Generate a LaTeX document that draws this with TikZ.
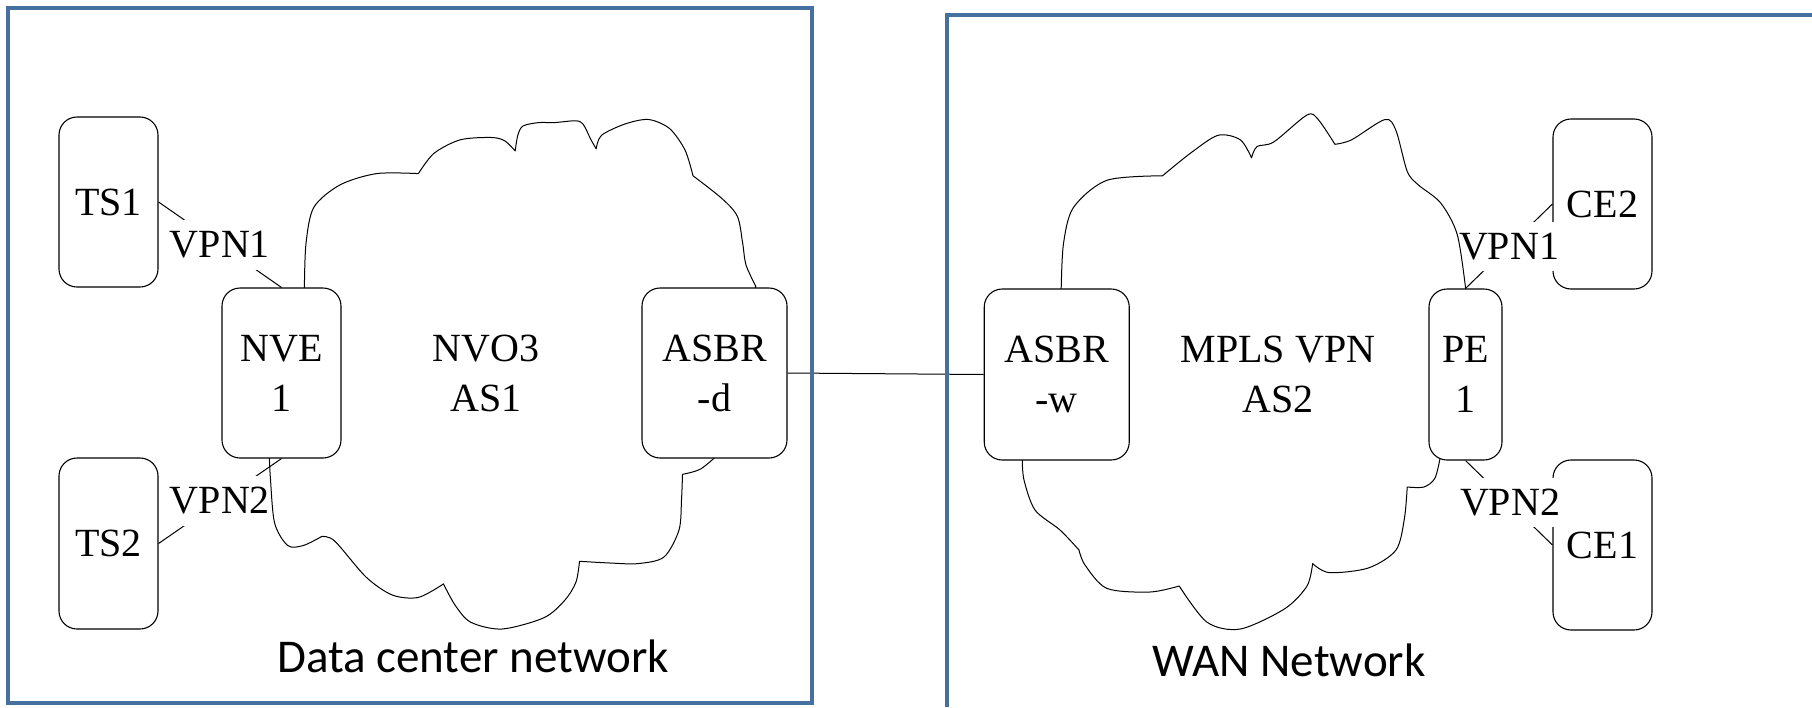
\documentclass[tikz,border=0pt]{standalone}
\usepackage{fontspec}
\setmainfont{Liberation Serif}
\newfontfamily\calib{Carlito}
\definecolor{frameblue}{RGB}{70,112,160}
\pgfdeclarelayer{bottom}
\pgfdeclarelayer{labels}
\pgfdeclarelayer{cloud}
\pgfsetlayers{bottom,labels,cloud,main}
\begin{document}
\begin{tikzpicture}[x=1pt,y=-1pt,
  box/.style={draw, line width=1.1pt, rounded corners=18pt, fill=white, inner sep=0pt,
    align=center, font=\fontsize{40}{50}\selectfont},
  vlab/.style={fill=white, inner xsep=1pt, inner ysep=11pt, font=\fontsize{40}{50}\selectfont},
  txt/.style={align=center, font=\fontsize{40}{50}\selectfont},
  net/.style={font=\calib\fontsize{47}{56}\selectfont, anchor=base},
  conn/.style={line width=1pt},
  cloudline/.style={line width=1pt, line join=round},
  frame/.style={draw=frameblue, line width=4pt}]
\useasboundingbox (0,0) rectangle (1812,707);

% frames
\draw[frame] (8,8) rectangle (812,703);
\draw[frame] (1812,15) -- (946.5,15) -- (946.5,707);

% boxes over the cloud
\node[box, minimum width=119pt, minimum height=170pt] (nve) at (281.5,373) {NVE\\1};
\node[box, minimum width=145pt, minimum height=170pt] (asbrd) at (714.5,373) {ASBR\\-d};
\node[box, minimum width=145pt, minimum height=171pt] (asbrw) at (1056.75,374.5) {ASBR\\-w};
\node[box, minimum width=73pt, minimum height=171pt] (pe) at (1465.5,374.5) {PE\\1};

% inner texts
\node[txt] (nvo) at (486,373) {NVO3\\AS1};
\node[txt] (mpls) at (1278,374) {MPLS VPN\\AS2};
\node[net] (dcn) at (473,672) {Data center network};
\node[net] (wan) at (1289,676) {WAN Network};

\begin{pgfonlayer}{bottom}
\node[box, minimum width=99pt, minimum height=170pt] (ts1) at (108.5,202) {TS1};
\node[box, minimum width=99pt, minimum height=171pt] (ts2) at (108.5,543.5) {TS2};
\node[box, minimum width=99pt, minimum height=170pt] (ce2) at (1602.5,204) {CE2};
\node[box, minimum width=99pt, minimum height=170pt] (ce1) at (1602.5,545) {CE1};
\draw[conn] (ts1.east) -- (nve.north);
\draw[conn] (ts2.east) -- (nve.south);
\draw[conn] (ce2.west) -- (pe.north);
\draw[conn] (ce1.west) -- (pe.south);
\draw[conn] (asbrd.east) -- (asbrw.west);
\end{pgfonlayer}

\begin{pgfonlayer}{labels}
\node[vlab] (l1) at (220,245) {VPN1};
\node[vlab] (l2) at (220,501) {VPN2};
\node[vlab] (r1) at (1509,246.5) {VPN1};
\node[vlab] (r2) at (1510,502.5) {VPN2};
\end{pgfonlayer}

\begin{pgfonlayer}{cloud}
% left cloud
\draw[cloudline]
  plot[smooth] coordinates {(304.4,287.2) (306,243.5) (313.8,207.4) (340,184.9) (376.6,173.6) (418.4,173.6)}
  -- plot[smooth] coordinates {(418.4,173.6) (434,153.3) (460.3,139.8) (491.6,137.5) (505,141) (515.2,151)}
  -- plot[smooth] coordinates {(515.2,151) (517.8,135.3) (523,126) (538.7,122.6) (554.4,122.6) (575.3,120.8) (583,124) (591,139.8) (596.2,148.8)}
  -- plot[smooth] coordinates {(596.2,148.8) (601.5,135.3) (625,124) (648.5,119.5) (669.5,128.5) (685,150) (693,175.8)}
  -- plot[smooth] coordinates {(693,175.8) (721.8,198.4) (737.4,216.4) (742.7,243.5) (746,265) (755.8,286.3)}
  -- (720.7,452.2)
  -- plot[smooth] coordinates {(720.7,452.2) (700.8,468.9) (682.5,474.3)}
  -- plot[smooth] coordinates {(682.5,474.3) (681.5,500) (679,530) (664,557) (638,563.6) (610,563) (579.5,561.3)}
  -- plot[smooth] coordinates {(579.5,561.3) (576,582) (565,600) (544,617.7) (502,629) (470.7,622.2) (455,605) (443.5,583.9)}
  -- plot[smooth] coordinates {(443.5,583.9) (418.4,597.4) (392.3,595) (366,577) (334.7,541) (321.7,536.5)}
  -- plot[smooth] coordinates {(321.7,536.5) (303.3,545.5) (287.7,545.5) (274.6,523) (270.4,478) (269.4,458.5)}
  -- cycle;
% right cloud
\draw[cloudline]
  plot[smooth] coordinates {(1061.2,288.5) (1063.5,243.5) (1073.5,207.4) (1106.9,180.3) (1162.5,175.8)}
  -- plot[smooth] coordinates {(1162.5,175.8) (1190.3,153.3) (1218,135.3) (1240.3,139.8) (1251.5,157.8)}
  -- plot[smooth] coordinates {(1251.5,157.8) (1257,146.5) (1273.7,142) (1307,115) (1318.2,119.5) (1334.9,144.3)}
  -- plot[smooth] coordinates {(1334.9,144.3) (1351.6,139.8) (1385,119.5) (1396,130.7) (1407.2,171.3) (1418.3,184.9) (1440.6,202.9) (1457.2,234.4) (1465.6,288.5)}
  -- (1440.6,455.4)
  -- plot[smooth] coordinates {(1440.6,455.4) (1435,478) (1423.9,487) (1407.2,487)}
  -- plot[smooth] coordinates {(1407.2,487) (1404.4,518.5) (1396,550) (1368.3,568) (1329.3,572.6) (1312.6,563.6)}
  -- plot[smooth] coordinates {(1312.6,563.6) (1307,586) (1284.8,608.7) (1240.3,629) (1207,622.2) (1179.2,586)}
  -- plot[smooth] coordinates {(1179.2,586) (1150,592) (1106.9,588.4) (1085,565) (1079,550)}
  -- plot[smooth] coordinates {(1079,550) (1060,530) (1035,510) (1024,480) (1022.3,460)}
  -- cycle;
\end{pgfonlayer}
\end{tikzpicture}
\end{document}
